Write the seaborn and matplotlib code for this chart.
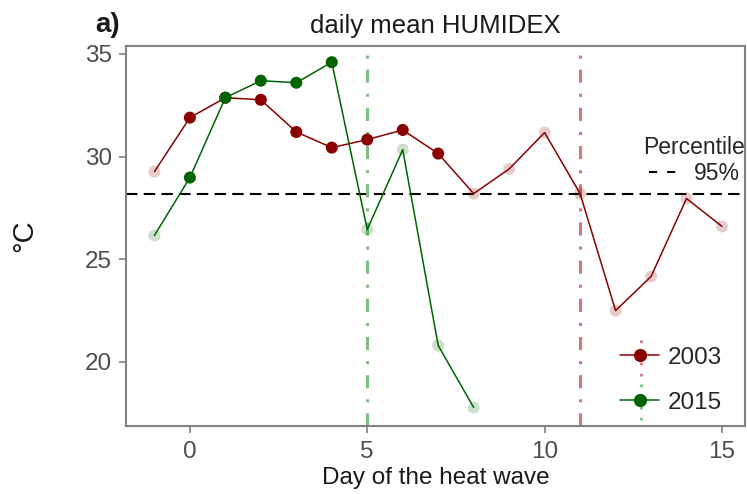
import matplotlib
matplotlib.use("Agg")
import matplotlib.pyplot as plt
from matplotlib.lines import Line2D
import numpy as np
import pandas as pd
import seaborn as sns

days_2003 = [-1, 0, 1, 2, 3, 4, 5, 6, 7, 8, 9, 10, 11, 12, 13, 14, 15]
hum_2003 = [29.27, 31.9, 32.87, 32.77, 31.2, 30.44, 30.83, 31.3, 30.15,
            28.2, 29.4, 31.17, 28.2, 22.5, 24.16, 27.96, 26.6]
hw_2003 = [False, True, True, True, True, True, True, True, True,
           False, False, False, False, False, False, False, False]

days_2015 = [-1, 0, 1, 2, 3, 4, 5, 6, 7, 8]
hum_2015 = [26.16, 28.98, 32.87, 33.7, 33.6, 34.6, 26.45, 30.34, 20.8, 17.78]
hw_2015 = [False, True, True, True, True, True, False, False, False, False]

p95 = 28.2
end_2003 = 11
end_2015 = 5

red = "#8B0000"
green = "#006400"

df = pd.concat([
    pd.DataFrame({"day": days_2003, "hum": hum_2003, "hw": hw_2003, "year": "2003"}),
    pd.DataFrame({"day": days_2015, "hum": hum_2015, "hw": hw_2015, "year": "2015"}),
])
pal = {"2003": red, "2015": green}

sns.set_theme(style="white")
plt.rcParams['font.family'] = ['Liberation Sans', 'DejaVu Sans']
fig = plt.figure(figsize=(7.47, 4.94), dpi=100)
ax = fig.add_axes([0.1687, 0.1377, 0.8287, 0.7692])

# threshold and end-of-heat-wave markers
dashdot = (0, (4.3, 3.6, 1, 3.6))
ax.axhline(p95, color="black", ls=(0, (5.5, 3)), lw=1.5, zorder=1)
ax.axvline(end_2015, color="#7fbf7f", ls=dashdot, lw=2.2, zorder=1)
ax.axvline(end_2003, color="#cc7a7a", ls=dashdot, lw=2.2, zorder=1)

sns.lineplot(data=df, x="day", y="hum", hue="year", palette=pal, lw=1.1,
             legend=False, ax=ax, zorder=2)
sns.scatterplot(data=df[~df.hw], x="day", y="hum", hue="year", palette=pal,
                s=75, alpha=0.2, edgecolor="none", legend=False, ax=ax, zorder=3)
sns.scatterplot(data=df[df.hw], x="day", y="hum", hue="year", palette=pal,
                s=75, edgecolor="none", legend=False, ax=ax, zorder=4)

ax.set_xlim(-1.80, 15.65)
ax.set_ylim(16.88, 35.39)
ax.set_xticks([0, 5, 10, 15])
ax.set_yticks([20, 25, 30, 35])
ax.tick_params(axis="both", colors="#808080", labelsize=17.5, length=5, width=1.2,
               direction="out", bottom=True, left=True)
ax.tick_params(axis="x", pad=6)
ax.tick_params(axis="y", pad=5)
for lab in ax.get_xticklabels() + ax.get_yticklabels():
    lab.set_color("#4d4d4d")
for s in ax.spines.values():
    s.set_color("#808080")
    s.set_linewidth(1.5)

ax.set_xlabel("Day of the heat wave", fontsize=17.5, labelpad=3, color="#1a1a1a")
ax.set_ylabel("°C", fontsize=21, color="#1a1a1a")
ax.yaxis.set_label_coords(-0.142, 0.5)
ax.set_title("daily mean HUMIDEX", fontsize=18.5, pad=9, color="#1a1a1a")
fig.text(0.127, 0.935, "a)", fontsize=20, fontweight="bold", color="#1a1a1a")

# year legend
h1 = Line2D([], [], color=red, marker="o", markersize=8.5, lw=1.1)
h2 = Line2D([], [], color=green, marker="o", markersize=8.5, lw=1.1)
leg1 = ax.legend([h1, h2], ["2003", "2015"], loc="lower right",
                 bbox_to_anchor=(0.978, 0.006), frameon=False, fontsize=17.5,
                 handlelength=1.6, handletextpad=0.35, labelspacing=0.95,
                 borderaxespad=0)
ax.add_artist(leg1)
# dotted vline keys through the year legend markers
ax.plot([12.71, 12.71], [19.32, 21.36], color="#cc7a7a", ls=(0, (1, 3)), lw=2, zorder=0)
ax.plot([12.71, 12.71], [17.17, 19.22], color="#7fbf7f", ls=(0, (1, 3)), lw=2, zorder=0)

# percentile legend
hp = Line2D([], [], color="black", ls=(0, (3.9, 4.8)), lw=1.5)
leg2 = ax.legend([hp], ["95%"], title="Percentile", loc="upper right",
                 bbox_to_anchor=(1.015, 0.787), frameon=False, fontsize=16.5,
                 title_fontsize=16.5, handlelength=1.25, handletextpad=0.7,
                 borderaxespad=0)
leg2._legend_box.sep = 2

fig.savefig("out.png", dpi=100)
